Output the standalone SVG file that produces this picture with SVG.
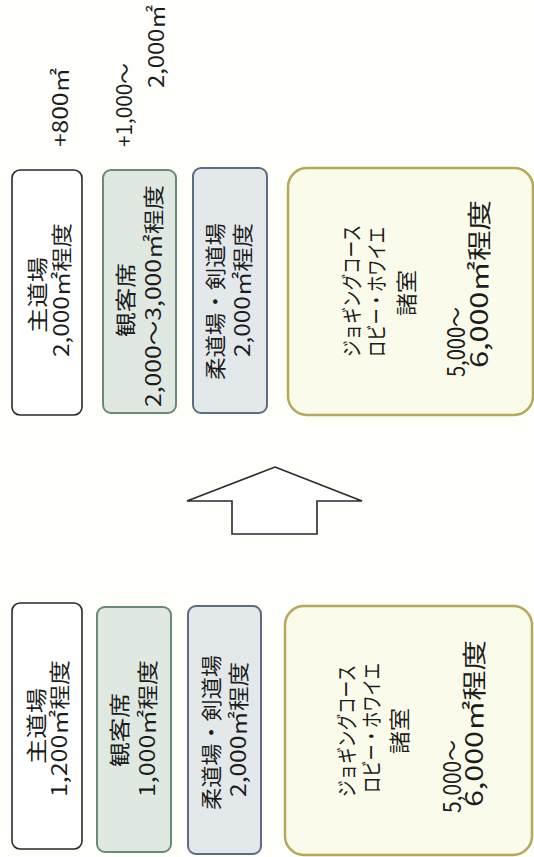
<svg xmlns="http://www.w3.org/2000/svg" width="534" height="857" viewBox="0 0 534 857">
<style>
  .t{font-family:"Noto Sans CJK JP","Noto Sans",sans-serif;font-size:21px;fill:#1c1c1c;dominant-baseline:central}
  .s{font-size:21px}
  .l{font-size:24px}
  .b1{fill:#ffffff;stroke:#2a2a2a;stroke-width:1.6}
  .b2{fill:#dfe9e2;stroke:#6b8a74;stroke-width:2}
  .b3{fill:#e3e8eb;stroke:#5b6d7e;stroke-width:2}
  .b4{fill:#fbfbec;stroke:#b5a858;stroke-width:2.5}
</style>
<rect x="0" y="0" width="534" height="857" fill="#fefefb"/>
<g id="labels">
  <text class="t" transform="translate(59,147) rotate(-90)" textLength="79" lengthAdjust="spacingAndGlyphs">+800㎡</text>
  <text class="t" transform="translate(123,147) rotate(-90)" textLength="84" lengthAdjust="spacingAndGlyphs">+1,000～</text>
  <text class="t" transform="translate(155,88) rotate(-90)" textLength="83" lengthAdjust="spacingAndGlyphs">2,000㎡</text>
</g>
<g id="top-main">
  <rect class="b1" x="12" y="170" width="70" height="245" rx="8"/>
  <text class="t" transform="translate(36,333) rotate(-90)" textLength="76" lengthAdjust="spacingAndGlyphs">主道場</text>
  <text class="t" transform="translate(60,357) rotate(-90)" textLength="134" lengthAdjust="spacingAndGlyphs">2,000㎡程度</text>
</g>
<g id="top-seats">
  <rect class="b2" x="103" y="170" width="73" height="243" rx="8"/>
  <text class="t" transform="translate(124,337) rotate(-90)" textLength="74" lengthAdjust="spacingAndGlyphs">観客席</text>
  <text class="t" transform="translate(152,407) rotate(-90)" textLength="222" lengthAdjust="spacingAndGlyphs">2,000～3,000㎡程度</text>
</g>
<g id="top-judo">
  <rect class="b3" x="193" y="168" width="74" height="245" rx="8"/>
  <text class="t" transform="translate(214,380) rotate(-90)" textLength="157" lengthAdjust="spacingAndGlyphs">柔道場・剣道場</text>
  <text class="t" transform="translate(241,357) rotate(-90)" textLength="134" lengthAdjust="spacingAndGlyphs">2,000㎡程度</text>
</g>
<g id="top-other">
  <rect class="b4" x="288" y="168" width="245" height="247" rx="19"/>
  <text class="t s" transform="translate(350,357) rotate(-90)" textLength="132" lengthAdjust="spacingAndGlyphs">ジョギングコース</text>
  <text class="t s" transform="translate(375,357) rotate(-90)" textLength="130" lengthAdjust="spacingAndGlyphs">ロビー・ホワイエ</text>
  <text class="t s" transform="translate(405,316) rotate(-90)" textLength="46" lengthAdjust="spacingAndGlyphs">諸室</text>
  <text class="t l" transform="translate(454,377) rotate(-90)" textLength="70" lengthAdjust="spacingAndGlyphs">5,000～</text>
  <text class="t l" transform="translate(477,368) rotate(-90)" textLength="168" lengthAdjust="spacingAndGlyphs">6,000㎡程度</text>
</g>
<g id="connectors">
  <polygon points="275,467 362,501 317,501 317,534 232,534 232,501 187,501" fill="#ffffff" stroke="#2a2a2a" stroke-width="1.6" stroke-linejoin="miter"/>
</g>
<g id="bottom-main">
  <rect class="b1" x="12" y="603" width="70" height="246" rx="8"/>
  <text class="t" transform="translate(35,764) rotate(-90)" textLength="76" lengthAdjust="spacingAndGlyphs">主道場</text>
  <text class="t" transform="translate(58,797) rotate(-90)" textLength="137" lengthAdjust="spacingAndGlyphs">1,200㎡程度</text>
</g>
<g id="bottom-seats">
  <rect class="b2" x="97" y="607" width="74" height="245" rx="8"/>
  <text class="t" transform="translate(118,767) rotate(-90)" textLength="74" lengthAdjust="spacingAndGlyphs">観客席</text>
  <text class="t" transform="translate(146,797) rotate(-90)" textLength="137" lengthAdjust="spacingAndGlyphs">1,000㎡程度</text>
</g>
<g id="bottom-judo">
  <rect class="b3" x="188" y="606" width="73" height="248" rx="8"/>
  <text class="t" transform="translate(210,810) rotate(-90)" textLength="155" lengthAdjust="spacingAndGlyphs">柔道場・剣道場</text>
  <text class="t" transform="translate(237,797) rotate(-90)" textLength="135" lengthAdjust="spacingAndGlyphs">2,000㎡程度</text>
</g>
<g id="bottom-other">
  <rect class="b4" x="285" y="606" width="247" height="249" rx="19"/>
  <text class="t s" transform="translate(345,797) rotate(-90)" textLength="132" lengthAdjust="spacingAndGlyphs">ジョギングコース</text>
  <text class="t s" transform="translate(370,793) rotate(-90)" textLength="130" lengthAdjust="spacingAndGlyphs">ロビー・ホワイエ</text>
  <text class="t s" transform="translate(398,754) rotate(-90)" textLength="46" lengthAdjust="spacingAndGlyphs">諸室</text>
  <text class="t l" transform="translate(450,813) rotate(-90)" textLength="73" lengthAdjust="spacingAndGlyphs">5,000～</text>
  <text class="t l" transform="translate(472,807) rotate(-90)" textLength="167" lengthAdjust="spacingAndGlyphs">6,000㎡程度</text>
</g>
</svg>
